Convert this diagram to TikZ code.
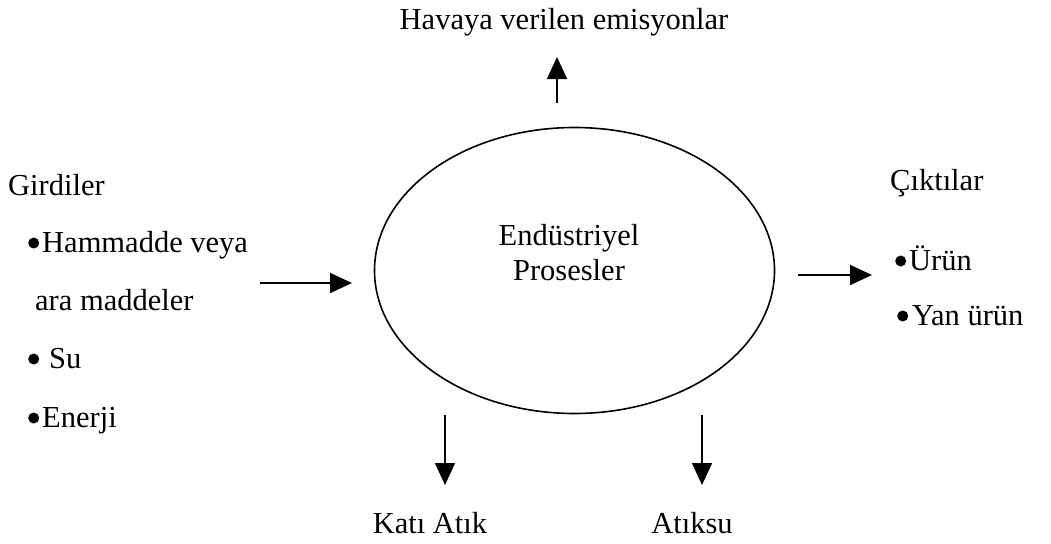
\documentclass[tikz,border=0pt]{standalone}
\usepackage{fontspec}
\setmainfont{Liberation Serif}
\usetikzlibrary{arrows.meta,shapes.geometric}
% round list bullet sitting at mid x-height
\newcommand\dotmark{\tikz[x=1pt,y=1pt,baseline=0pt]\fill (0,9) circle (5.5);}
\begin{document}
\begin{tikzpicture}[x=1pt,y=-1pt,
  lbl/.style={inner sep=0pt,anchor=base west,font=\fontsize{30.5}{36}\selectfont},
  clbl/.style={inner sep=0pt,anchor=base,font=\fontsize{30.5}{36}\selectfont},
  flow/.style={line width=1.6pt,-{Triangle[width=20pt,length=22pt]}},
  proc/.style={draw,ellipse,line width=1.6pt,minimum width=400pt,minimum height=286pt,inner sep=0pt}]
\useasboundingbox (0,0) rectangle (1051,543);

% central process
\node[proc] (proc) at (574.5,270.5) {};
\node[clbl] (ptxt1) at (569,245) {Endüstriyel};
\node[clbl] (ptxt2) at (569,280) {Prosesler};

% inputs
\node[lbl] (in)  at (8,195)  {Girdiler};
\node[lbl] (in1) at (28,252) {\dotmark\kern3pt Hammadde veya};
\node[lbl] (in2) at (35,310) {ara maddeler};
\node[lbl] (in3) at (28,368) {\dotmark\kern10pt Su};
\node[lbl] (in4) at (28,427) {\dotmark\kern3pt Enerji};

% outputs
\node[lbl] (out)  at (890,190) {Çıktılar};
\node[lbl] (out1) at (895,270) {\dotmark\kern3pt Ürün};
\node[lbl] (out2) at (897,325) {\dotmark\kern4pt Yan ürün};

% emissions and wastes
\node[clbl] (air)   at (564,30)  {Havaya verilen emisyonlar};
\node[clbl] (solid) at (430,533) {Katı Atık};
\node[clbl] (water) at (692,533) {Atıksu};

% arrow end points
\coordinate (inS)  at (260,283);
\coordinate (inE)  at (352,283);
\coordinate (outS) at (798,275);
\coordinate (outE) at (872,275);
\coordinate (airS) at (557,103);
\coordinate (airE) at (557,57);
\coordinate (solS) at (445,415);
\coordinate (solE) at (445,485);
\coordinate (watS) at (702,415);
\coordinate (watE) at (702,485);

\draw[flow] (inS) -- (inE);
\draw[flow] (outS) -- (outE);
\draw[flow] (airS) -- (airE);
\draw[flow] (solS) -- (solE);
\draw[flow] (watS) -- (watE);
\end{tikzpicture}
\end{document}
